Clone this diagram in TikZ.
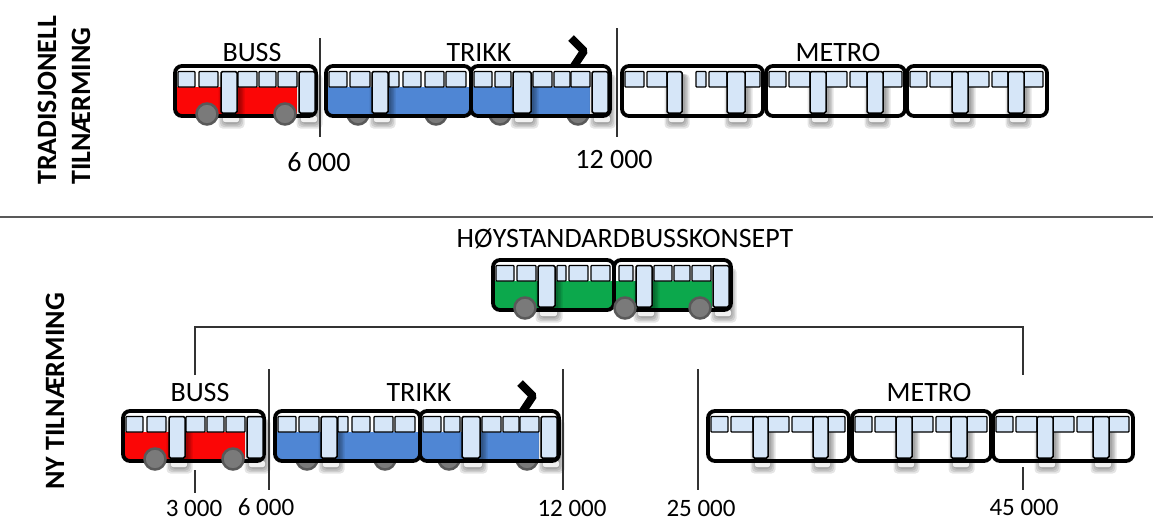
\documentclass[tikz,border=0pt]{standalone}
\usepackage{fontspec}
\setmainfont{Carlito}
\definecolor{glass}{HTML}{D6E6F8}
\definecolor{bussred}{HTML}{FB0606}
\definecolor{trikkblue}{HTML}{4F86D4}
\definecolor{hsgreen}{HTML}{0CA84C}
\tikzset{
  carbody/.style={draw=black,line width=3.8pt,rounded corners=7pt},
  glasspane/.style={draw=black,line width=1.2pt,fill=glass,rounded corners=.8pt},
  doorpane/.style={draw=black,line width=1.5pt,fill=glass,rounded corners=1.5pt},
  wheel/.style={circle,draw=black!65,line width=2.5pt,fill=black!52,inner sep=0pt,minimum size=21pt},
  caption/.style={font=\fontsize{28}{28}\selectfont,inner sep=0pt,anchor=center},
  smallcaption/.style={font=\fontsize{25}{25}\selectfont,inner sep=0pt,anchor=center},
  sidecaption/.style={font=\fontsize{28}{28}\selectfont\bfseries,inner sep=0pt,rotate=90,anchor=west},
  limitline/.style={draw=black!80,line width=1.2pt},
  pole/.style={draw=black,line width=8pt,line join=bevel}
}
% x, y, width, band colour, band end, windows, doors, wheels behind, wheels in front
\newcommand{\railcar}[9]{
  \begin{scope}[shift={(#1,#2)}]
    \foreach \w in {#8} \node[wheel] at (\w,48) {};
    \fill[white,rounded corners=7pt] (0,0) rectangle (#3,50);
    \fill[#4] (2,21) rectangle (#5,48);
    \foreach \d/\e in {#7} {
      \foreach \g in {0,1.5,3,4.5} \fill[black,opacity=.1,rounded corners=4pt] (\d+2-\g,8) rectangle (\e+3+\g,58+\g);
      \fill[white,opacity=.85,rounded corners=2pt] (\d+2,50) rectangle (\e+2,56);
    }
    \draw[carbody] (0,0) rectangle (#3,50);
    \foreach \a/\b in {#6} \draw[glasspane] (\a,5.5) rectangle (\b,21);
    \foreach \d/\e in {#7} \draw[doorpane] (\d,5.5) rectangle (\e,47);
    \foreach \w in {#9} \node[wheel] at (\w,48) {};
  \end{scope}
}
\newcommand{\busunit}[2]{
  \railcar{#1}{#2}{141}{bussred}{122}{3/20,24/43,63/82,84/101,103/122}{46/62,124/140}{}{32,110}
}
\newcommand{\trikkunit}[2]{
  \railcar{#1}{#2}{145}{trikkblue}{143}{3/21,24/44,63/73,77/95,99/118,120/140}{46/62}{32,110}{}
  \railcar{#1+145}{#2}{139}{trikkblue}{119}{3/21,24/40,62/81,83/99,100/119}{42/60,121/137}{29,107}{}
  \draw[pole] (#1+245,#2-28) -- (#1+258,#2-15) -- (#1+248,#2);
}
\begin{document}
\begin{tikzpicture}[x=1pt,y=-1pt]
  \useasboundingbox (0,0) rectangle (1153,520);
  % upper half
  \node[sidecaption] (trad) at (47,185) {TRADISJONELL};
  \node[sidecaption] (tiln) at (81,185) {TILNÆRMING};
  \busunit{175}{66}
  \trikkunit{326}{66}
  \railcar{622}{66}{141}{white}{130}{3/22,25/45,74/84,87/105,123/138}{45/60,105/123}{}{}
  \railcar{766}{66}{139}{white}{130}{3/20,23/44,60/81,84/101,117/136}{44/60,101/117}{}{}
  \railcar{907}{66}{140}{white}{130}{3/20,23/45,61/82,85/101,117/136}{45/61,101/117}{}{}
  \node[caption] (busstop) at (252,53) {BUSS};
  \node[caption] (trikktop) at (479,53) {TRIKK};
  \node[caption] (metrotop) at (838,53) {METRO};
  \node[caption] (sixtop) at (319,162) {6 000};
  \node[caption] (twelvetop) at (614,160) {12 000};
  \coordinate (a1) at (320,38);
  \coordinate (a2) at (320,137);
  \coordinate (b1) at (617,28);
  \coordinate (b2) at (617,137);
  \draw[limitline] (a1) -- (a2);
  \draw[limitline] (b1) -- (b2);
  % divider
  \coordinate (d1) at (0,217);
  \coordinate (d2) at (1153,217);
  \draw[draw=black!65,line width=1.6pt] (d1) -- (d2);
  % lower half
  \node[sidecaption] (ny) at (55,490) {NY TILNÆRMING};
  \node[caption] (hoy) at (625,239) {HØYSTANDARDBUSSKONSEPT};
  \railcar{493}{260}{121}{hsgreen}{119}{3/21,24/43,64/73,76/95,98/117}{45/62}{}{32}
  \railcar{614}{260}{117}{hsgreen}{98}{5/19,40/58,60/76,78/97}{22/38,99/115}{}{11,86}
  \coordinate (c1) at (195,375);
  \coordinate (c2) at (195,327);
  \coordinate (c3) at (1023,327);
  \coordinate (c4) at (1023,375);
  \draw[limitline] (c1) -- (c2) -- (c3) -- (c4);
  \busunit{123}{411}
  \trikkunit{275}{411}
  \railcar{708}{411}{141}{white}{130}{3/20,23/45,60/81,84/105,120/137}{45/60,105/120}{}{}
  \railcar{852}{411}{139}{white}{130}{3/20,23/44,60/81,84/99,115/135}{44/60,99/115}{}{}
  \railcar{993}{411}{140}{white}{130}{3/20,23/44,60/81,84/100,116/136}{44/60,100/116}{}{}
  \node[caption] (bussbot) at (200,393) {BUSS};
  \node[caption] (trikkbot) at (419,393) {TRIKK};
  \node[caption] (metrobot) at (929,393) {METRO};
  \node[smallcaption] (three) at (194,508) {3 000};
  \node[smallcaption] (sixbot) at (266,507) {6 000};
  \node[smallcaption] (twelvebot) at (572,508) {12 000};
  \node[smallcaption] (twentyfive) at (701,508) {25 000};
  \node[smallcaption] (fortyfive) at (1024,507) {45 000};
  \coordinate (e1) at (269,369);
  \coordinate (e2) at (269,490);
  \coordinate (f1) at (563,369);
  \coordinate (f2) at (563,490);
  \coordinate (g1) at (698,369);
  \coordinate (g2) at (698,490);
  \coordinate (h1) at (195,470);
  \coordinate (h2) at (195,493);
  \coordinate (i1) at (1023,467);
  \coordinate (i2) at (1023,490);
  \draw[limitline] (e1) -- (e2);
  \draw[limitline] (f1) -- (f2);
  \draw[limitline] (g1) -- (g2);
  \draw[limitline] (h1) -- (h2);
  \draw[limitline] (i1) -- (i2);
\end{tikzpicture}
\end{document}
